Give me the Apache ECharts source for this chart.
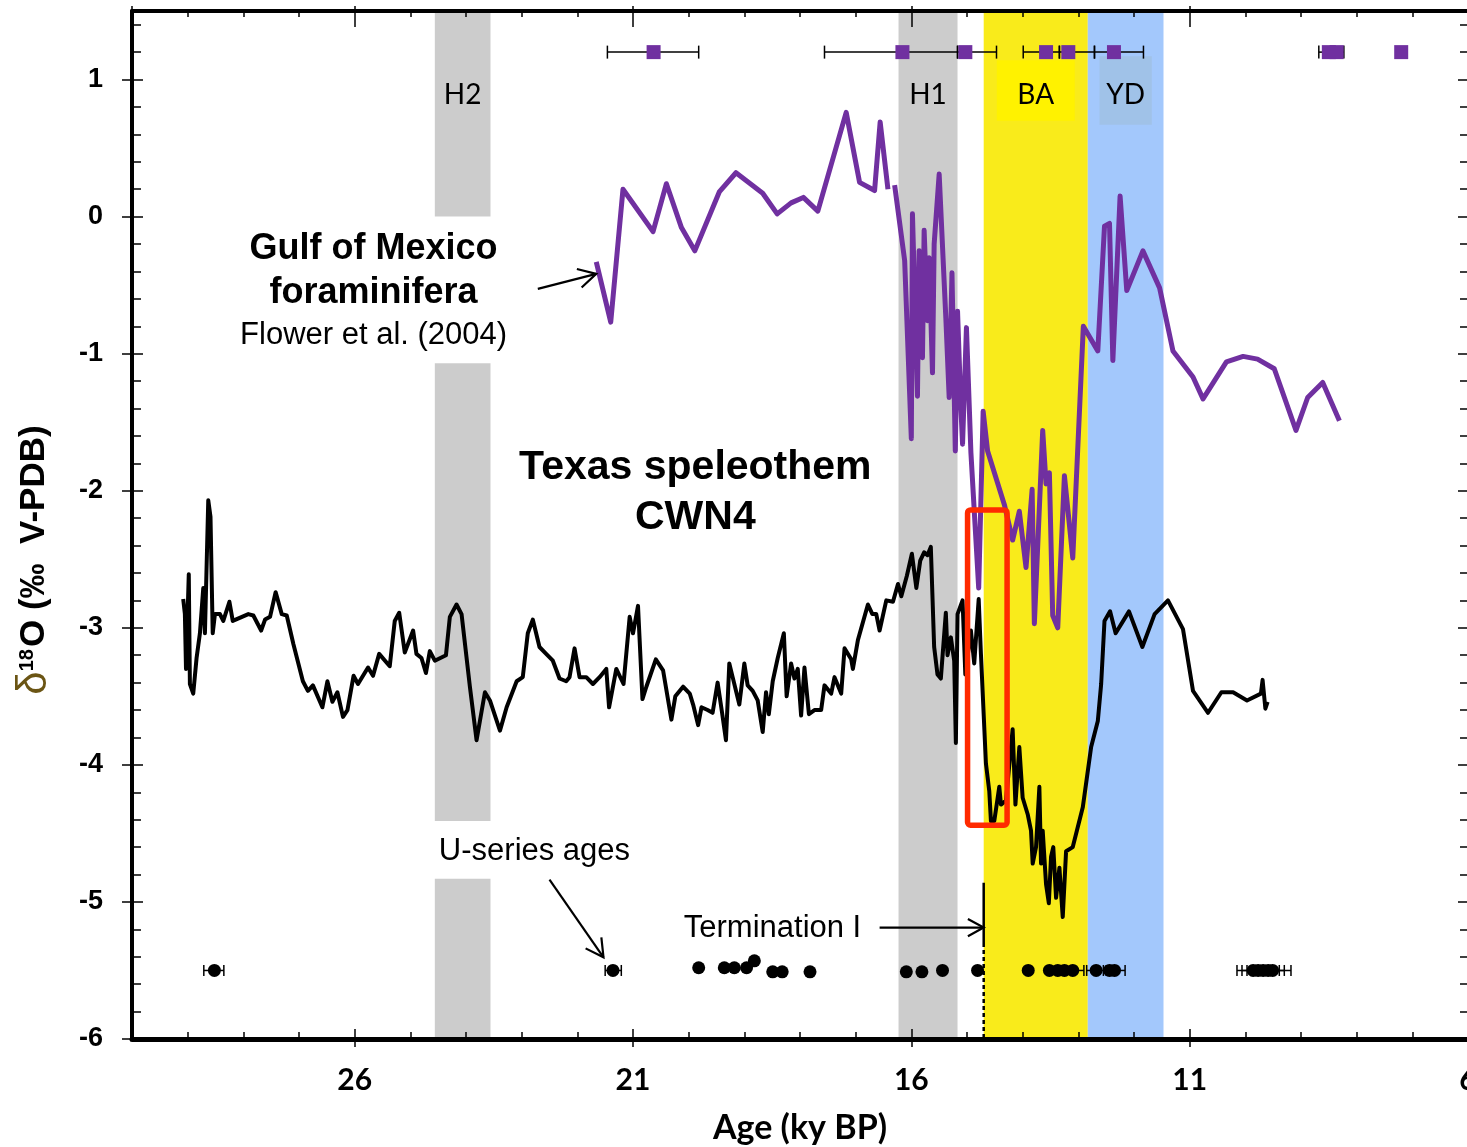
<!DOCTYPE html>
<html>
<head>
<meta charset="utf-8">
<script src="https://cdn.jsdelivr.net/npm/echarts@6/dist/echarts.min.js"></script>
<style>
  html, body { margin: 0; padding: 0; background: #fff; }
  #chart { width: 1467px; height: 1147px; }
</style>
</head>
<body>
<div id="chart"></div>
<script>
// ---- Age axis (ky BP) and δ18O axis (‰ V-PDB) ----
const ageMin = 6, ageMax = 30;
const d18OMin = -6, d18OMax = 1.5;
const ageTickStep = 5;           // labelled ticks: 6, 11, 16, 21, 26
const d18OTickStep = 1;

// ---- Climate events: shaded bands (ky BP) ----
const eventNames   = ['H2', 'H1', 'BA', 'YD'];
const eventOlder   = [24.56, 16.23, 14.70, 12.83];
const eventYounger = [23.56, 15.17, 12.83, 11.47];
const eventColors  = ['#cccccc', '#cccccc', '#f9eb1b', '#a3c8fc'];

// ---- Gulf of Mexico foraminifera δ18O (Flower et al., 2004) ----
const gulfAge = [21.66, 21.40, 21.18, 20.64, 20.40, 20.13, 19.89, 19.45, 19.15, 18.67,
  18.41, 18.16, 17.94, 17.68, 17.17, 16.93, 16.66, 16.56, 16.42, 16.36,
  16.30, 16.12, 16.00, 15.98, 15.89, 15.86, 15.80, 15.77, 15.71, 15.68,
  15.62, 15.59, 15.50, 15.38, 15.32, 15.27, 15.21, 15.17, 15.11, 15.08,
  15.01, 14.93, 14.79, 14.71, 14.63, 14.33, 14.18, 14.06, 13.94, 13.83,
  13.79, 13.64, 13.58, 13.52, 13.46, 13.37, 13.25, 13.10, 12.91, 12.65,
  12.53, 12.44, 12.38, 12.25, 12.13, 11.84, 11.54, 11.30, 10.94, 10.76,
  10.34, 10.04, 9.78, 9.48, 9.09, 8.88, 8.61, 8.31];
const gulfD18O = [-0.33, -0.77, 0.20, -0.11, 0.24, -0.08, -0.25, 0.18, 0.32, 0.17,
  0.02, 0.10, 0.14, 0.04, 0.76, 0.25, 0.19, 0.69, 0.20, null,
  0.23, -0.32, -1.62, 0.02, -1.31, -0.25, -1.03, -0.10, -0.76, -0.30,
  -1.14, -0.20, 0.31, -0.74, -1.32, -0.41, -1.71, -0.69, -1.39, -1.66,
  -0.81, -1.72, -2.71, -1.42, -1.71, -2.10, -2.36, -2.15, -2.56, -1.99,
  -2.97, -1.56, -1.95, -1.87, -2.91, -3.00, -1.89, -2.49, -0.80, -0.98,
  -0.07, -0.05, -1.05, 0.15, -0.54, -0.25, -0.52, -0.98, -1.17, -1.33,
  -1.06, -1.02, -1.04, -1.11, -1.56, -1.32, -1.21, -1.49];

// ---- Age-model control points of the foraminifera record, with 2σ ranges ----
const gulfCtrlAge   = [20.63, 16.16, 15.03, 13.58, 13.18, 12.36, 8.50, 8.36, 7.20];
const gulfCtrlLevel = [1.2, 1.2, 1.2, 1.2, 1.2, 1.2, 1.2, 1.2, 1.2];
const gulfCtrlOlder   = [21.46, 17.56, 15.17, 13.99, 13.34, 12.71, 8.68, null, null];
const gulfCtrlYounger = [19.82, 15.17, 14.47, 13.34, 12.71, 11.83, 8.23, null, null];

// ---- Texas speleothem CWN4 δ18O ----
const cwn4Age = [29.08, 29.05, 29.03, 28.98, 28.96, 28.90, 28.84, 28.78, 28.72, 28.69,
  28.63, 28.59, 28.55, 28.51, 28.42, 28.36, 28.25, 28.19, 27.91, 27.82,
  27.68, 27.61, 27.52, 27.42, 27.31, 27.22, 27.10, 26.93, 26.84, 26.75,
  26.58, 26.49, 26.40, 26.31, 26.21, 26.13, 26.02, 25.94, 25.76, 25.67,
  25.56, 25.37, 25.28, 25.20, 25.10, 24.95, 24.89, 24.80, 24.72, 24.65,
  24.56, 24.36, 24.29, 24.17, 24.08, 23.93, 23.81, 23.66, 23.57, 23.39,
  23.27, 23.09, 22.98, 22.89, 22.80, 22.68, 22.56, 22.44, 22.32, 22.20,
  22.14, 22.05, 21.96, 21.84, 21.72, 21.60, 21.48, 21.43, 21.30, 21.17,
  21.06, 21.00, 20.91, 20.83, 20.76, 20.59, 20.46, 20.31, 20.24, 20.10,
  19.98, 19.92, 19.83, 19.77, 19.66, 19.57, 19.48, 19.40, 19.33, 19.27,
  19.21, 19.09, 19.00, 18.94, 18.85, 18.76, 18.67, 18.61, 18.56, 18.49,
  18.40, 18.29, 18.24, 18.16, 18.10, 18.04, 17.98, 17.92, 17.84, 17.74,
  17.62, 17.56, 17.44, 17.38, 17.26, 17.20, 17.08, 17.05, 16.96, 16.78,
  16.70, 16.63, 16.57, 16.45, 16.33, 16.24, 16.18, 16.08, 15.99, 15.91,
  15.84, 15.77, 15.71, 15.65, 15.59, 15.53, 15.47, 15.38, 15.35, 15.29,
  15.23, 15.20, 15.17, 15.08, 15.03, 14.93, 14.87, 14.79, 14.75, 14.66,
  14.60, 14.57, 14.51, 14.42, 14.39, 14.30, 14.18, 14.13, 14.06, 14.00,
  13.91, 13.85, 13.82, 13.76, 13.70, 13.67, 13.64, 13.58, 13.53, 13.49,
  13.45, 13.40, 13.34, 13.28, 13.22, 13.10, 12.92, 12.77, 12.65, 12.59,
  12.53, 12.43, 12.33, 12.09, 11.85, 11.63, 11.39, 11.12, 10.94, 10.67,
  10.43, 10.22, 9.97, 9.72, 9.69, 9.64, 9.60];
const cwn4D18O = [-2.79, -2.90, -3.30, -2.61, -3.41, -3.48, -3.22, -3.04, -2.71, -3.04,
  -2.07, -2.19, -3.04, -2.90, -2.90, -2.95, -2.81, -2.95, -2.90, -2.91,
  -3.02, -2.94, -2.92, -2.74, -2.90, -2.91, -3.12, -3.39, -3.46, -3.42,
  -3.58, -3.39, -3.54, -3.47, -3.65, -3.60, -3.35, -3.41, -3.29, -3.35,
  -3.19, -3.28, -2.95, -2.89, -3.18, -3.02, -3.19, -3.22, -3.33, -3.17,
  -3.24, -3.20, -2.92, -2.83, -2.90, -3.43, -3.82, -3.47, -3.53, -3.75,
  -3.58, -3.39, -3.36, -3.04, -2.94, -3.14, -3.19, -3.24, -3.37, -3.39,
  -3.36, -3.15, -3.36, -3.36, -3.41, -3.36, -3.30, -3.58, -3.30, -3.41,
  -2.92, -3.04, -2.84, -3.52, -3.43, -3.23, -3.31, -3.67, -3.50, -3.43,
  -3.48, -3.56, -3.71, -3.58, -3.60, -3.62, -3.40, -3.62, -3.82, -3.26,
  -3.36, -3.56, -3.26, -3.42, -3.46, -3.53, -3.76, -3.47, -3.63, -3.39,
  -3.22, -3.04, -3.50, -3.26, -3.37, -3.30, -3.64, -3.29, -3.63, -3.60,
  -3.60, -3.42, -3.48, -3.36, -3.48, -3.15, -3.23, -3.30, -3.09, -2.83,
  -2.90, -2.90, -3.02, -2.80, -2.81, -2.68, -2.77, -2.62, -2.46, -2.71,
  -2.51, -2.45, -2.47, -2.41, -3.14, -3.34, -3.37, -2.89, -3.20, -3.07,
  -3.24, -3.84, -2.90, -2.80, -3.34, -3.02, -3.26, -2.79, -3.19, -3.99,
  -4.19, -4.41, -4.41, -4.16, -4.29, -4.26, -3.74, -4.29, -3.87, -4.24,
  -4.36, -4.48, -4.72, -4.60, -4.16, -4.72, -4.48, -4.87, -5.01, -4.67,
  -4.60, -4.97, -4.75, -5.11, -4.63, -4.60, -4.31, -3.87, -3.68, -3.41,
  -2.95, -2.88, -3.04, -2.88, -3.14, -2.90, -2.80, -3.01, -3.46, -3.62,
  -3.47, -3.47, -3.53, -3.48, -3.38, -3.59, -3.54];

// ---- CWN4 U-series ages (plotted as a row of dates), with 2σ ranges ----
const uAge   = [28.52, 21.36, 19.82, 19.36, 19.18, 18.96, 18.82, 18.49, 18.32, 17.82,
  16.09, 15.81, 15.44, 14.81, 13.90, 13.52, 13.37, 13.25, 13.10, 12.68,
  12.44, 12.35, 9.86, 9.77, 9.68, 9.59, 9.51];
const uLevel = [-5.50, -5.50, -5.48, -5.48, -5.48, -5.48, -5.43, -5.51, -5.51, -5.51,
  -5.51, -5.51, -5.50, -5.50, -5.50, -5.50, -5.50, -5.50, -5.50, -5.50,
  -5.50, -5.50, -5.50, -5.50, -5.50, -5.50, -5.50];
const uOlder   = [28.71, 21.50, null, null, null, null, null, null, null, null,
  null, null, null, null, null, null, null, null, 13.30, 12.85,
  null, 12.55, 10.15, 10.06, 9.97, 9.88, 9.80];
const uYounger = [28.35, 21.21, null, null, null, null, null, null, null, null,
  null, null, null, null, null, null, null, null, 12.90, 12.50,
  null, 12.16, 9.57, 9.48, 9.39, 9.30, 9.18];

// ---- Termination I onset (ky BP) and the highlighted CWN4 interval ----
const terminationAge = 14.70;
const highlight = { older: 14.99, younger: 14.28, top: -2.14, bottom: -4.44 };

// ---------------------------------------------------------------
const zip = (a, b) => a.map((v, i) => [v, b[i] === null ? '-' : b[i]]);
const errRows = (age, lvl, lo, hi) => age
  .map((a, i) => [a, lvl[i], lo[i], hi[i]])
  .filter(r => r[2] !== null);

const ARIAL = '"Liberation Sans", Arial, sans-serif';
const CALIBRI = 'Lato, "Open Sans", sans-serif';
const PURPLE = '#7030a0';

const chart = echarts.init(document.getElementById('chart'), null, { renderer: 'canvas' });

function xAxisBase(position, interval) {
  return {
    type: 'value', position, min: ageMin, max: ageMax, inverse: true, interval,
    axisLine: { show: false, onZero: false },
    axisTick: { show: false },
    axisLabel: { show: false },
    splitLine: { show: false },
    z: 10
  };
}
function yAxisBase(position, interval) {
  return {
    type: 'value', position, min: d18OMin, max: d18OMax, interval,
    axisLine: { show: false, onZero: false },
    axisTick: { show: false },
    axisLabel: { show: false },
    splitLine: { show: false },
    z: 10
  };
}
const tickStyle = { color: '#000', width: 1.5 };

const xAxes = [
  // bottom: axis line, labels, outer part of major ticks
  Object.assign(xAxisBase('bottom', ageTickStep), {
    axisLine: { show: true, onZero: false, lineStyle: { color: '#000', width: 5 } },
    axisTick: { show: true, inside: false, length: 8, lineStyle: tickStyle },
    axisLabel: { show: true, margin: 26, showMaxLabel: false, color: '#000',
      fontFamily: CALIBRI, fontWeight: 'bold', fontSize: 30 },
    name: 'Age (ky BP)', nameLocation: 'middle', nameGap: 72,
    nameTextStyle: { color: '#000', fontFamily: CALIBRI, fontWeight: 'bold', fontSize: 34 }
  }),
  // bottom: inner part of major ticks
  Object.assign(xAxisBase('bottom', ageTickStep), {
    axisTick: { show: true, inside: true, length: 10, lineStyle: tickStyle } }),
  // bottom: 1-ky ticks
  Object.assign(xAxisBase('bottom', 1), {
    axisTick: { show: true, inside: true, length: 7, lineStyle: tickStyle } }),
  // top frame
  Object.assign(xAxisBase('top', ageTickStep), {
    axisLine: { show: true, onZero: false, lineStyle: { color: '#000', width: 4 } },
    axisTick: { show: true, inside: true, length: 16, lineStyle: tickStyle } }),
  Object.assign(xAxisBase('top', ageTickStep), {
    axisTick: { show: true, inside: false, length: 5, lineStyle: tickStyle } }),
  Object.assign(xAxisBase('top', 1), {
    axisTick: { show: true, inside: true, length: 6, lineStyle: tickStyle } })
];

const yAxes = [
  Object.assign(yAxisBase('left', d18OTickStep), {
    axisLine: { show: true, onZero: false, lineStyle: { color: '#000', width: 4 } },
    axisTick: { show: true, inside: false, length: 10, lineStyle: tickStyle },
    axisLabel: { show: true, margin: 29, showMaxLabel: false, showMinLabel: true, color: '#000',
      fontFamily: ARIAL, fontWeight: 'bold', fontSize: 27 }
  }),
  Object.assign(yAxisBase('left', 0.2), {
    axisTick: { show: true, inside: true, length: 9, lineStyle: tickStyle } }),
  Object.assign(yAxisBase('left', d18OTickStep), {
    axisTick: { show: true, inside: true, length: 11, lineStyle: tickStyle } }),
  Object.assign(yAxisBase('right', 0.2), {
    axisTick: { show: true, inside: true, length: 8, lineStyle: tickStyle } }),
  Object.assign(yAxisBase('right', d18OTickStep), {
    axisTick: { show: true, inside: true, length: 10, lineStyle: tickStyle } })
];

function errorBarSeries(name, rows, capHalf, z) {
  return {
    name, type: 'custom', z, silent: true,
    encode: { x: 0, y: 1 },
    data: rows,
    renderItem(params, api) {
      const lo = api.coord([api.value(2), api.value(1)]);
      const hi = api.coord([api.value(3), api.value(1)]);
      const st = { stroke: '#000', lineWidth: 1.5 };
      return {
        type: 'group',
        children: [
          { type: 'line', shape: { x1: lo[0], y1: lo[1], x2: hi[0], y2: hi[1] }, style: st },
          { type: 'line', shape: { x1: lo[0], y1: lo[1] - capHalf, x2: lo[0], y2: lo[1] + capHalf }, style: st },
          { type: 'line', shape: { x1: hi[0], y1: hi[1] - capHalf, x2: hi[0], y2: hi[1] + capHalf }, style: st }
        ]
      };
    }
  };
}

const option = {
  animation: false,
  backgroundColor: '#ffffff',
  grid: { left: 132, top: 11, width: 1336, height: 1028, containLabel: false, outerBoundsMode: 'none' },
  xAxis: xAxes,
  yAxis: yAxes,
  series: [
    {
      name: 'events', type: 'line', data: [], silent: true,
      markArea: {
        silent: true,
        data: eventNames.map((n, i) => [
          { xAxis: eventOlder[i], itemStyle: { color: eventColors[i], opacity: 1 } },
          { xAxis: eventYounger[i] }
        ])
      }
    },
    {
      name: 'CWN4', type: 'line', z: 3, data: zip(cwn4Age, cwn4D18O),
      showSymbol: false, symbol: 'none', connectNulls: false,
      lineStyle: { color: '#000', width: 4, join: 'round' }
    },
    {
      name: 'Gulf of Mexico', type: 'line', z: 3, data: zip(gulfAge, gulfD18O),
      showSymbol: false, symbol: 'none', connectNulls: false,
      lineStyle: { color: PURPLE, width: 5, join: 'round' }
    },
    errorBarSeries('Gulf age model ranges', errRows(gulfCtrlAge, gulfCtrlLevel, gulfCtrlOlder, gulfCtrlYounger), 6.5, 3.5),
    {
      name: 'Gulf age model', type: 'scatter', z: 4, silent: true,
      data: zip(gulfCtrlAge, gulfCtrlLevel),
      symbol: 'rect', symbolSize: 14, itemStyle: { color: PURPLE, opacity: 1 }
    },
    errorBarSeries('U-series ranges', errRows(uAge, uLevel, uOlder, uYounger), 5.5, 3.5),
    {
      name: 'U-series ages', type: 'scatter', z: 4, silent: true,
      data: zip(uAge, uLevel),
      symbol: 'circle', symbolSize: 13, itemStyle: { color: '#000', opacity: 1 }
    }
  ]
};
chart.setOption(option);

// ---- annotations placed in data coordinates ----
const px = (age, v) => chart.convertToPixel({ xAxisIndex: 0, yAxisIndex: 0 }, [age, v]);

function text(age, v, str, size, weight, family, align, z) {
  const p = px(age, v);
  return {
    type: 'text', x: p[0], y: p[1], z: z || 20,
    style: { text: str, fill: '#000', fontSize: size, fontWeight: weight || 'normal',
      fontFamily: family, align: align || 'center', verticalAlign: 'middle',
      textAlign: align || 'center', textVerticalAlign: 'middle' }
  };
}
function box(a0, v0, a1, v1, fill, z) {
  const p0 = px(a0, v0), p1 = px(a1, v1);
  return {
    type: 'rect', z,
    shape: { x: Math.min(p0[0], p1[0]), y: Math.min(p0[1], p1[1]),
      width: Math.abs(p1[0] - p0[0]), height: Math.abs(p1[1] - p0[1]) },
    style: { fill }
  };
}
function arrow(from, to, head, width) {
  const a = px(from[0], from[1]), b = px(to[0], to[1]);
  const ang = Math.atan2(b[1] - a[1], b[0] - a[0]);
  const spread = 0.5;
  const h1 = [b[0] - head * Math.cos(ang - spread), b[1] - head * Math.sin(ang - spread)];
  const h2 = [b[0] - head * Math.cos(ang + spread), b[1] - head * Math.sin(ang + spread)];
  const st = { stroke: '#000', lineWidth: width, fill: null };
  return [
    { type: 'line', z: 20, shape: { x1: a[0], y1: a[1], x2: b[0], y2: b[1] }, style: st },
    { type: 'polyline', z: 20, shape: { points: [h1, b, h2] }, style: st }
  ];
}

const mid = i => (eventOlder[i] + eventYounger[i]) / 2;
const graphics = [];

// white label panels laid over the H2 band
graphics.push(box(28.24, 0.0, 23.13, -1.07, '#ffffff', 1.5));
graphics.push(box(24.80, -4.41, 20.80, -4.83, '#ffffff', 1.5));
// coloured panels behind BA and YD labels
graphics.push(box(mid(2) + 0.70, 1.14, mid(2) - 0.70, 0.70, '#fff200', 1.6));
graphics.push(box(mid(3) + 0.47, 1.17, mid(3) - 0.47, 0.67, '#a0c2e8', 1.6));

eventNames.forEach((n, i) => graphics.push(text(mid(i), 0.89, n, 28, 'normal', CALIBRI)));

graphics.push(text(25.66, -0.24, 'Gulf of Mexico', 36, 'bold', ARIAL));
graphics.push(text(25.66, -0.56, 'foraminifera', 36, 'bold', ARIAL));
graphics.push(text(25.66, -0.87, 'Flower et al. (2004)', 31, 'normal', ARIAL));
graphics.push(...arrow([22.71, -0.527], [21.66, -0.418], 20, 2.2));

graphics.push(text(19.88, -1.83, 'Texas speleothem', 41, 'bold', ARIAL));
graphics.push(text(19.88, -2.20, 'CWN4', 41, 'bold', ARIAL));

graphics.push(text(22.77, -4.63, 'U-series ages', 31, 'normal', ARIAL));
graphics.push(...arrow([22.50, -4.837], [21.53, -5.404], 20, 2.2));

graphics.push(text(16.90, -5.19, 'Termination I', 31, 'normal', ARIAL, 'right'));
graphics.push(...arrow([16.57, -5.187], [terminationAge, -5.187], 18, 2.2));
{
  const t0 = px(terminationAge, -4.86), t1 = px(terminationAge, -5.30), t2 = px(terminationAge, d18OMin);
  graphics.push({ type: 'line', z: 20, shape: { x1: t0[0], y1: t0[1], x2: t1[0], y2: t1[1] },
    style: { stroke: '#000', lineWidth: 2.5 } });
  graphics.push({ type: 'line', z: 20, shape: { x1: t1[0], y1: t1[1], x2: t2[0], y2: t2[1] },
    style: { stroke: '#000', lineWidth: 2.5, lineDash: [4, 3] } });
}

// red outline around the abrupt CWN4 shift
{
  const p0 = px(highlight.older, highlight.top), p1 = px(highlight.younger, highlight.bottom);
  graphics.push({ type: 'rect', z: 8,
    shape: { x: p0[0], y: p0[1], width: p1[0] - p0[0], height: p1[1] - p0[1], r: 3 },
    style: { fill: null, stroke: '#ff2a00', lineWidth: 5.5 } });
}

// rotated y-axis title
graphics.push({
  type: 'text', x: 34, y: 560, rotation: Math.PI / 2, z: 20,
  style: {
    text: '{d|δ}{s|18}{b|O (‰  V-PDB)}',
    align: 'center', verticalAlign: 'middle', textAlign: 'center', textVerticalAlign: 'middle',
    rich: {
      d: { fontFamily: ARIAL, fontSize: 42, fontWeight: 'normal', fill: '#6b5514', color: '#6b5514' },
      s: { fontFamily: ARIAL, fontSize: 20, fontWeight: 'bold', fill: '#000', color: '#000', padding: [0, 2, 14, 0] },
      b: { fontFamily: ARIAL, fontSize: 35, fontWeight: 'bold', fill: '#000', color: '#000' }
    }
  }
});

chart.setOption({ graphic: { elements: graphics } });
</script>
</body>
</html>
